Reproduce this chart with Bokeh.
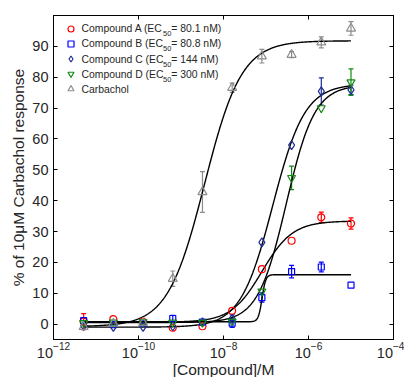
import numpy as np
from bokeh.plotting import figure
from bokeh.models import (ColumnDataSource, Whisker, TeeHead, FixedTicker, LogAxis,
                          LinearAxis, Legend, LegendItem, Label, Range1d)
from bokeh.embed import file_html
from bokeh.resources import INLINE

# ---------------- data ----------------
conc = [5.12e-12, 2.56e-11, 1.28e-10, 6.4e-10, 3.2e-9, 1.6e-8, 8e-8, 4e-7, 2e-6, 1e-5]

a_resp = [0.8, 1.6, 0.8, -1.2, -0.7, 4.3, 17.8, 27.0, 34.6, 32.6]
a_err = [2.6, 0.0, 0.0, 0.0, 0.0, 0.0, 0.0, 0.0, 1.7, 1.8]
b_resp = [1.1, -0.2, 0.3, 1.8, 0.6, 0.3, 8.6, 17.0, 18.5, 12.6]
b_err = [0.0, 0.0, 0.0, 1.0, 0.0, 1.4, 1.5, 2.0, 1.6, 0.0]
c_resp = [-0.6, -0.9, -0.9, -0.7, 0.6, 1.8, 26.5, 58.0, 75.4, 75.9]
c_err = [0.0, 0.0, 0.0, 0.0, 0.0, 1.2, 0.0, 0.0, 4.4, 1.5]
d_resp = [0.4, 0.5, 0.7, 0.5, 0.5, 0.8, 10.6, 47.4, 70.0, 78.4]
d_err = [0.0, 0.0, 0.0, 0.0, 0.0, 0.0, 0.0, 3.8, 0.0, 4.3]
cch_resp = [-0.9, 0.2, 0.4, 14.7, 42.8, 76.6, 86.8, 87.3, 91.3, 95.8]
cch_err = [0.0, 0.0, 0.0, 2.5, 6.6, 1.5, 2.2, 1.0, 1.8, 2.2]

# four-parameter logistic fit parameters: bottom, top, EC50 (M), Hill slope
fit_bottom = [0.6, 0.75, -1.0, 0.5, -0.8]
fit_top = [33.4, 16.0, 77.8, 77.5, 91.8]
fit_ec50 = [8.01e-8, 8.08e-8, 1.44e-7, 3.0e-7, 3.6e-9]
fit_hill = [1.2, 10.0, 1.15, 1.3, 1.0]

series_names = ["Compound A", "Compound B", "Compound C", "Compound D", "Carbachol"]
ec50_text = ["80.1 nM", "80.8 nM", "144 nM", "300 nM", None]
colors = ["#ff0000", "#0000ff", "#1f2f95", "#138a13", "#8c8c8c"]
markers = ["circle", "square", "diamond", "inverted_triangle", "triangle"]
msizes = [7, 6, 9, 8, 9]

x_ticks = [1e-12, 1e-10, 1e-8, 1e-6, 1e-4]
y_ticks = [0, 10, 20, 30, 40, 50, 60, 70, 80, 90]

resp_all = [a_resp, b_resp, c_resp, d_resp, cch_resp]
err_all = [a_err, b_err, c_err, d_err, cch_err]

FONT = "Liberation Sans"
TXT = "#262626"
FRAME_H = 324

p = figure(frame_width=340, frame_height=FRAME_H, x_axis_type="log", output_backend="svg",
           toolbar_location=None, x_range=Range1d(1e-12, 1e-4), y_range=Range1d(-5, 100),
           min_border_left=53, min_border_right=11, min_border_top=15, min_border_bottom=36)
p.background_fill_color = "white"
p.border_fill_color = "white"
p.outline_line_color = "black"
p.outline_line_width = 1
p.grid.visible = False

# axes
for ax in (p.xaxis[0], p.yaxis[0]):
    ax.major_tick_in = 4
    ax.major_tick_out = 0
    ax.minor_tick_in = 0
    ax.minor_tick_out = 0
    ax.axis_line_color = "black"
    ax.major_tick_line_color = "black"
    ax.major_label_text_font = FONT
    ax.major_label_text_color = TXT
    ax.axis_label_text_font = FONT
    ax.axis_label_text_color = TXT
    ax.axis_label_text_font_style = "normal"
    ax.axis_label_text_font_size = "15.5px"
    ax.major_label_text_font_size = "14.5px"

p.xaxis[0].ticker = FixedTicker(ticks=x_ticks, minor_ticks=[])
p.yaxis[0].ticker = FixedTicker(ticks=y_ticks, minor_ticks=[])
p.xaxis[0].axis_label = "[Compound]/M"
p.yaxis[0].axis_label = "% of 10\u03bcM Carbachol response"
p.xaxis[0].major_label_standoff = 2
p.xaxis[0].axis_label_standoff = 0
p.yaxis[0].major_label_standoff = 5
p.yaxis[0].axis_label_standoff = 2

top_ax = LogAxis(ticker=FixedTicker(ticks=x_ticks, minor_ticks=[]), major_tick_in=4,
                 major_tick_out=0, minor_tick_in=0, minor_tick_out=0,
                 major_label_text_font_size="2px", major_label_text_alpha=0,
                 major_label_standoff=0,
                 axis_line_color="black", major_tick_line_color="black")
right_ax = LinearAxis(ticker=FixedTicker(ticks=y_ticks, minor_ticks=[]), major_tick_in=4,
                      major_tick_out=0, minor_tick_in=0, minor_tick_out=0,
                      major_label_text_font_size="2px", major_label_text_alpha=0,
                      major_label_standoff=0,
                      axis_line_color="black", major_tick_line_color="black")
p.add_layout(top_ax, "above")
p.add_layout(right_ax, "right")

# fitted curves
xs_fit = np.logspace(np.log10(conc[0]), np.log10(conc[-1]), 500)
for i in range(5):
    y_fit = fit_bottom[i] + (fit_top[i] - fit_bottom[i]) / (1 + (fit_ec50[i] / xs_fit) ** fit_hill[i])
    p.line(xs_fit, y_fit, line_color="black", line_width=1.4)

# error bars and markers
marker_renderers = []
for i in range(5):
    resp = np.array(resp_all[i])
    err = np.array(err_all[i])
    x = np.array(conc)
    keep = err > 0
    wsrc = ColumnDataSource(dict(x=x[keep], upper=(resp + err)[keep], lower=(resp - err)[keep]))
    w = Whisker(base="x", upper="upper", lower="lower", source=wsrc, dimension="height",
                line_color=colors[i], line_width=1.2,
                upper_head=TeeHead(size=5, line_color=colors[i], line_width=1.2),
                lower_head=TeeHead(size=5, line_color=colors[i], line_width=1.2))
    p.add_layout(w)

for i in range(5):
    src = ColumnDataSource(dict(x=conc, y=resp_all[i]))
    r = p.scatter("x", "y", source=src, marker=markers[i], size=msizes[i],
                  fill_color=None, line_color=colors[i], line_width=1.2)
    marker_renderers.append(r)

# legend (markers) + text labels with subscripts
legend = Legend(items=[LegendItem(label=" ", renderers=[r]) for r in marker_renderers],
                location="top_left", margin=6, padding=0, spacing=0,
                glyph_width=23, glyph_height=15, label_height=15, label_width=2,
                background_fill_alpha=0, border_line_alpha=0,
                label_text_font_size="8px")
p.add_layout(legend)

# row centres measured from the frame top (px)
row_top = [13.0, 28.3, 43.6, 58.9, 74.2]
for i in range(5):
    if ec50_text[i] is None:
        parts = [(series_names[i], 28, 0, "10.4px")]
    else:
        parts = [(series_names[i] + " (EC", 28, 0, "10.4px"),
                 ("50", 109.6, 5, "7.5px"),
                 (" = " + ec50_text[i] + ")", 117.8, 0, "10.4px")]
    for txt, xs, dy, fs in parts:
        p.add_layout(Label(x=xs, y=FRAME_H - row_top[i] - dy, x_units="screen",
                           y_units="screen", text=txt, text_font=FONT, text_font_size=fs,
                           text_color=TXT, text_baseline="middle", text_align="left"))

open("out.html", "w").write(file_html(p, INLINE))
